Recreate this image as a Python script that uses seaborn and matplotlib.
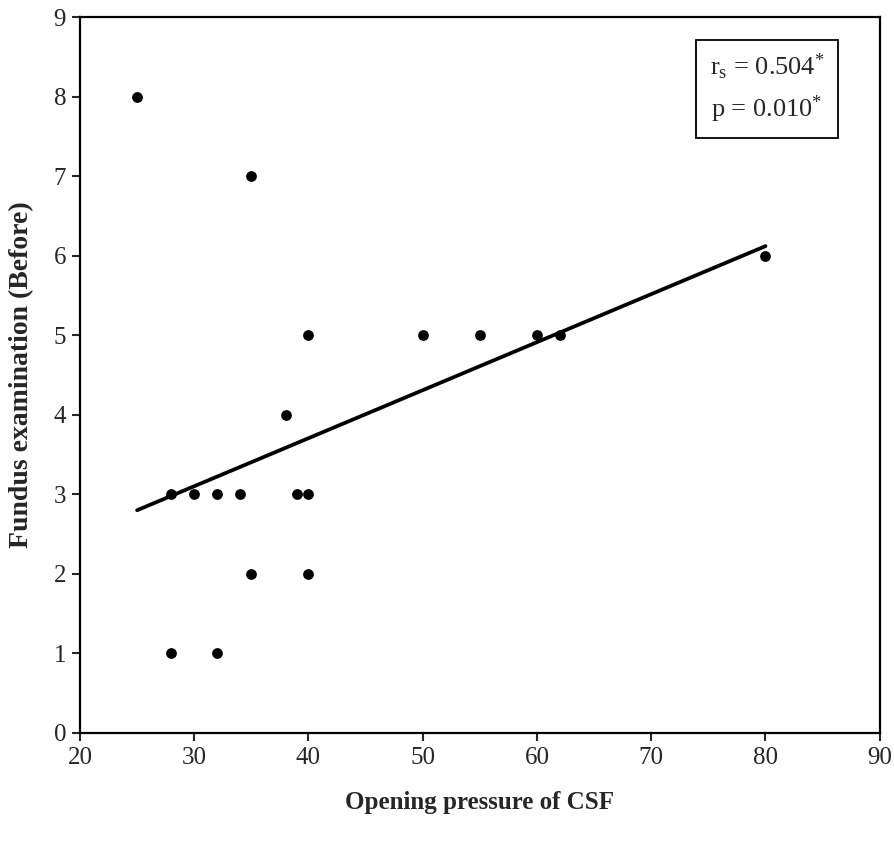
import pandas as pd
import matplotlib
matplotlib.use("Agg")
import matplotlib.pyplot as plt
import seaborn as sns

# data
pressure = [25, 35, 80, 40, 50, 55, 60, 62, 38, 28, 30, 32, 34, 39, 40, 35, 40, 28, 32]
fundus = [8, 7, 6, 5, 5, 5, 5, 5, 4, 3, 3, 3, 3, 3, 3, 2, 2, 1, 1]

# fitted line as drawn in the source (endpoints)
fit_x = [25, 80]
fit_y = [2.80, 6.12]

x_ticks = [20, 30, 40, 50, 60, 70, 80, 90]
y_ticks = [0, 1, 2, 3, 4, 5, 6, 7, 8, 9]

df = pd.DataFrame({"pressure": pressure, "fundus": fundus})
fit_df = pd.DataFrame({"x": fit_x, "y": fit_y})

sns.set_style("ticks")
plt.rcParams['font.family'] = ['Liberation Serif', 'DejaVu Serif']
plt.rcParams['mathtext.fontset'] = 'custom'
plt.rcParams['mathtext.rm'] = 'Liberation Serif'
plt.rcParams['mathtext.it'] = 'Liberation Serif:italic'

fig = plt.figure(figsize=(8.94, 8.51), dpi=100)
ax = fig.add_axes([0.0895, 0.1387, 0.8945, 0.8413])

sns.scatterplot(data=df, x="pressure", y="fundus", color="black", s=60,
                edgecolor="black", linewidth=0, ax=ax, zorder=3)
sns.lineplot(data=fit_df, x="x", y="y", color="black", linewidth=2.7, ax=ax, zorder=2)

ax.set_xlim(20, 90)
ax.set_ylim(0, 9)
ax.set_xticks(x_ticks)
ax.set_yticks(y_ticks)
ax.tick_params(axis="both", direction="out", length=6, width=1.5, labelsize=18, pad=4)
for sp in ax.spines.values():
    sp.set_linewidth(1.6)
    sp.set_color("black")

ax.set_xlabel("Opening pressure of CSF", fontsize=18, fontweight="bold", labelpad=16)
ax.set_ylabel("Fundus examination (Before)", fontsize=20, fontweight="bold", labelpad=14)

ax.text(0.859, 0.900, "r$_{\\mathrm{s}}$ = 0.504$^{*}$\np = 0.010$^{*}$",
        transform=ax.transAxes, fontsize=19, ha="center", va="center",
        linespacing=1.5,
        bbox=dict(boxstyle="square,pad=0.5", facecolor="white", edgecolor="black", linewidth=1.3))

fig.savefig("out.png", dpi=100)
